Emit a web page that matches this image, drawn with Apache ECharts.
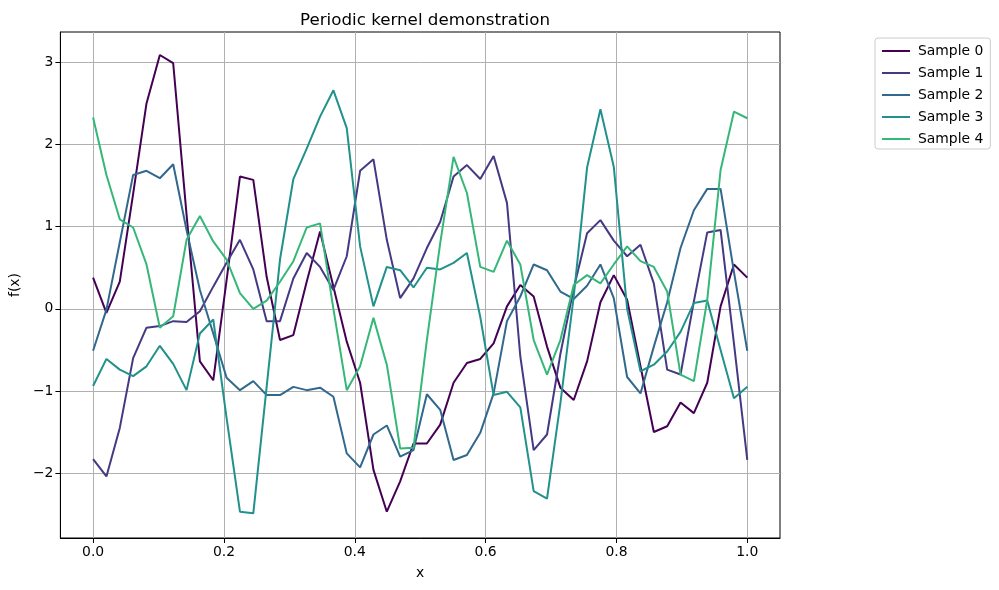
<!DOCTYPE html>
<html>
<head>
<meta charset="utf-8">
<script src="https://cdn.jsdelivr.net/npm/echarts@6/dist/echarts.min.js"></script>
<style>
html,body{margin:0;padding:0;background:#fff;}
#chart{width:999px;height:590px;}
</style>
</head>
<body>
<div id="chart"></div>
<script>
const N = 50;
const xValues = Array.from({length: N}, (_, i) => i / (N - 1));
const seriesNames = ['Sample 0', 'Sample 1', 'Sample 2', 'Sample 3', 'Sample 4'];
const seriesColors = ['#440154', '#443983', '#31688e', '#21918c', '#35b779'];
const xTicks = [0, 0.2, 0.4, 0.6, 0.8, 1.0];
const yTicks = [-2, -1, 0, 1, 2, 3];

const sample0 = [0.38,-0.05,0.33,1.4,2.5,3.09,2.99,1.15,-0.64,-0.87,0.35,1.61,1.57,0.39,-0.38,-0.32,0.33,0.94,0.27,-0.40,-0.90,-1.96,-2.47,-2.10,-1.64,-1.64,-1.41,-0.90,-0.66,-0.61,-0.42,0.03,0.29,0.15,-0.46,-0.96,-1.11,-0.64,0.08,0.41,0.11,-0.70,-1.50,-1.43,-1.14,-1.27,-0.90,0.03,0.54,0.38];
const sample1 = [-1.83,-2.04,-1.45,-0.60,-0.23,-0.21,-0.15,-0.16,-0.03,0.27,0.56,0.84,0.48,-0.15,-0.15,0.37,0.68,0.51,0.23,0.64,1.68,1.82,0.84,0.13,0.37,0.74,1.06,1.61,1.75,1.58,1.86,1.29,-0.58,-1.72,-1.53,-0.55,0.25,0.92,1.08,0.83,0.64,0.78,0.31,-0.74,-0.80,0.09,0.93,0.96,-0.42,-1.84];
const sample2 = [-0.51,-0.01,0.81,1.63,1.68,1.59,1.76,0.96,0.23,-0.30,-0.84,-0.99,-0.88,-1.05,-1.05,-0.95,-0.99,-0.96,-1.07,-1.76,-1.93,-1.53,-1.42,-1.80,-1.72,-1.04,-1.23,-1.84,-1.78,-1.51,-1.03,-0.15,0.15,0.54,0.47,0.21,0.12,0.28,0.54,0.13,-0.83,-1.03,-0.46,0.08,0.74,1.20,1.46,1.46,0.45,-0.51];
const sample3 = [-0.94,-0.61,-0.74,-0.82,-0.70,-0.45,-0.67,-0.99,-0.30,-0.13,-1.33,-2.47,-2.49,-0.95,0.60,1.58,1.95,2.34,2.66,2.20,0.76,0.03,0.51,0.47,0.26,0.50,0.48,0.56,0.68,-0.10,-1.05,-1.01,-1.20,-2.22,-2.31,-1.15,0.15,1.72,2.43,1.73,0.0,-0.76,-0.68,-0.52,-0.28,0.07,0.10,-0.50,-1.09,-0.95];
const sample4 = [2.33,1.63,1.09,0.99,0.54,-0.23,-0.09,0.84,1.13,0.82,0.60,0.19,0.0,0.10,0.33,0.58,0.99,1.04,0.0,-0.99,-0.70,-0.11,-0.68,-1.70,-1.69,-0.38,0.80,1.85,1.41,0.51,0.45,0.83,0.54,-0.38,-0.80,-0.38,0.29,0.41,0.31,0.54,0.76,0.58,0.51,0.21,-0.80,-0.88,0.11,1.69,2.40,2.32];
const allSamples = [sample0, sample1, sample2, sample3, sample4];

const FONT = 'DejaVu Sans';
const FS = 13.9;
const chart = echarts.init(document.getElementById('chart'), null, {renderer: 'canvas'});

const series = allSamples.map((vals, k) => ({
  name: seriesNames[k],
  type: 'line',
  data: vals.map((v, i) => [xValues[i], v]),
  showSymbol: false,
  symbol: 'none',
  smooth: false,
  animation: false,
  lineStyle: {color: seriesColors[k], width: 2},
  itemStyle: {color: seriesColors[k]},
  z: 3 + k
}));

chart.setOption({
  animation: false,
  backgroundColor: '#ffffff',
  title: {
    text: 'Periodic kernel demonstration',
    left: 420,
    textAlign: 'center',
    top: 7,
    textStyle: {fontFamily: FONT, fontSize: 16.7, fontWeight: 'normal', color: '#000'}
  },
  legend: {
    orient: 'vertical',
    left: 875,
    top: 38,
    itemWidth: 28,
    itemHeight: 2,
    itemGap: 8,
    padding: [6, 7, 3, 7],
    borderColor: '#cccccc',
    borderWidth: 1,
    borderRadius: 3,
    icon: 'rect',
    data: seriesNames,
    textStyle: {fontFamily: FONT, fontSize: FS, color: '#000', padding: [0, 0, 0, 3]}
  },
  grid: {
    left: 60, right: 219, top: 32, bottom: 52,
    show: true, borderColor: '#000', borderWidth: 1, backgroundColor: 'transparent'
  },
  xAxis: {
    type: 'value',
    min: -0.05, max: 1.05,
    name: 'x',
    nameLocation: 'middle',
    nameGap: 28,
    nameTextStyle: {fontFamily: FONT, fontSize: FS, color: '#000'},
    axisLine: {show: true, onZero: false, lineStyle: {color: '#000', width: 1}},
    axisTick: {show: true, inside: false, length: 5, customValues: xTicks, lineStyle: {color: '#000'}},
    axisLabel: {customValues: xTicks, fontFamily: FONT, fontSize: FS, color: '#000', margin: 7,
      formatter: v => v.toFixed(1)},
    splitLine: {show: true, lineStyle: {color: '#b0b0b0', width: 1}}
  },
  yAxis: {
    type: 'value',
    min: -2.79, max: 3.37,
    name: 'f(x)',
    nameLocation: 'middle',
    nameGap: 34,
    nameRotate: 90,
    nameTextStyle: {fontFamily: FONT, fontSize: FS, color: '#000'},
    axisLine: {show: true, onZero: false, lineStyle: {color: '#000', width: 1}},
    axisTick: {show: true, inside: false, length: 5, customValues: yTicks, lineStyle: {color: '#000'}},
    axisLabel: {customValues: yTicks, fontFamily: FONT, fontSize: FS, color: '#000', margin: 7,
      formatter: v => String(Math.round(v)).replace('-', '\u2212')},
    splitLine: {show: true, lineStyle: {color: '#b0b0b0', width: 1}}
  },
  series: series
});
</script>
</body>
</html>
